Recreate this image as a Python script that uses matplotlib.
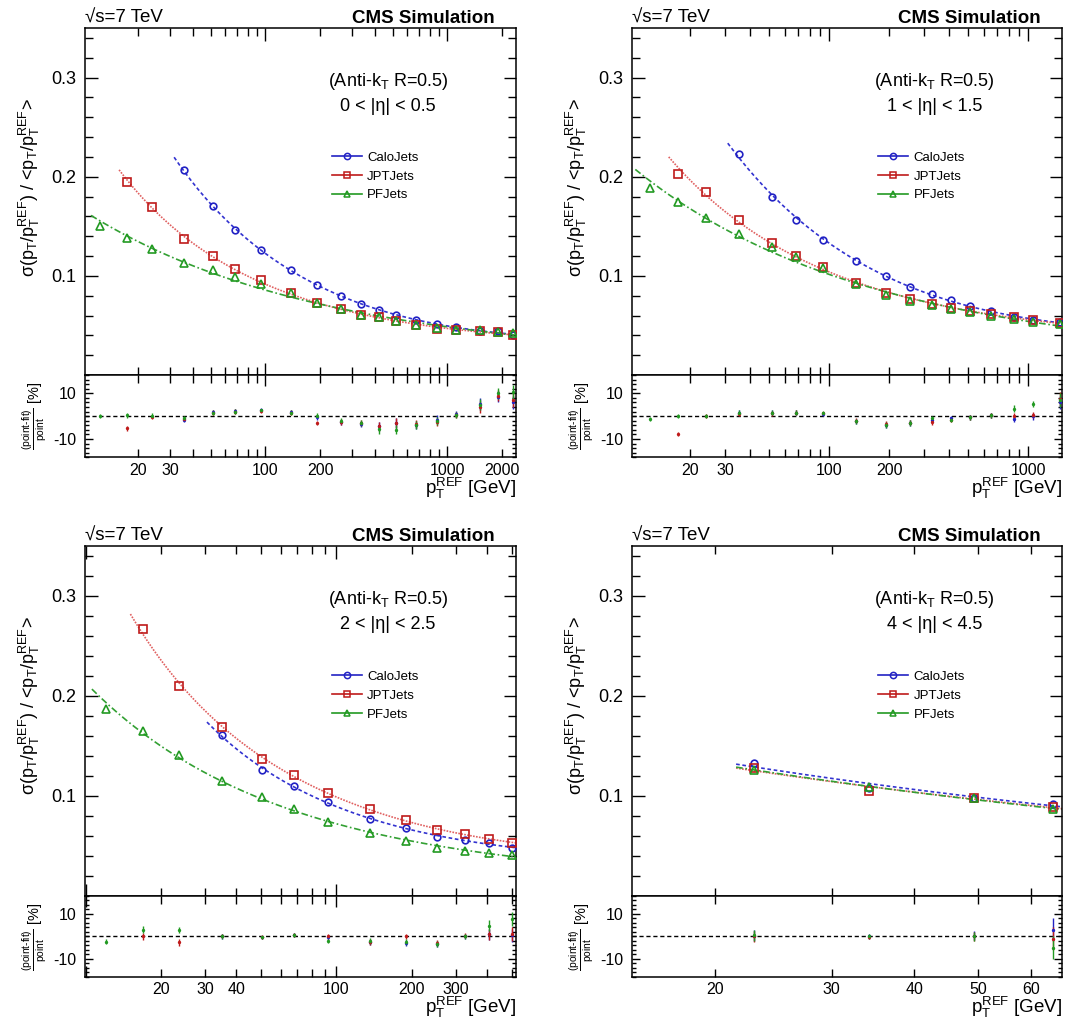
import matplotlib
matplotlib.use("Agg")
import matplotlib.pyplot as plt
import numpy as np
from matplotlib.lines import Line2D
from matplotlib.ticker import FixedLocator, FuncFormatter, LogLocator, MultipleLocator

plt.rcParams["font.family"] = ["Liberation Sans", "DejaVu Sans"]
plt.rcParams["mathtext.fontset"] = "custom"
plt.rcParams["mathtext.rm"] = "Liberation Sans"
plt.rcParams["mathtext.it"] = "Liberation Sans:italic"
plt.rcParams["mathtext.bf"] = "Liberation Sans:bold"
plt.rcParams["mathtext.default"] = "regular"
plt.rcParams["axes.unicode_minus"] = False

SERIES = ["CaloJets", "JPTJets", "PFJets"]

# ---- 0 < |eta| < 0.5
pt_1 = [12.4, 17.4, 23.8, 35.7, 51.2, 68.1, 94.2, 138, 193, 259, 334, 418, 520, 670, 877, 1111, 1506, 1890, 2291]
calo_1 = [None, None, None, 0.207, 0.170, 0.146, 0.126, 0.106, 0.091, 0.080, 0.0717, 0.066, 0.0607, 0.0557, 0.0514, 0.048, 0.0447, 0.044, 0.040]
jpt_1 = [None, 0.195, 0.169, 0.137, 0.120, 0.107, 0.096, 0.083, 0.0727, 0.0667, 0.061, 0.058, 0.0544, 0.050, 0.0467, 0.045, 0.0443, 0.0437, 0.040]
pf_1 = [0.150, 0.138, 0.127, 0.113, 0.106, 0.099, 0.092, 0.0824, 0.073, 0.0667, 0.061, 0.058, 0.0544, 0.050, 0.0477, 0.0457, 0.0457, 0.0437, 0.0427]
res_calo_1 = [None, None, None, -1.5, 1.8, 2.3, 2.7, 1.8, -0.5, -2.7, -3.5, -4.5, -3.0, -4.0, -1.5, 1.0, 5.3, 8.5, 6.0]
res_jpt_1 = [None, -5.3, -0.3, -1.2, 1.5, 2.0, 2.3, 1.5, -3.0, -2.5, -3.0, -4.5, -3.0, -3.5, -2.5, 0.5, 4.0, 9.0, 7.0]
res_pf_1 = [0.0, 0.3, 0.2, -1.0, 1.5, 2.0, 2.5, 1.5, 0.2, -2.0, -3.0, -5.7, -6.0, -4.0, -2.0, 0.5, 5.0, 10.0, 10.5]
err_1 = [1.0, 1.2, 1.0, 1.0, 1.0, 1.0, 0.8, 1.0, 1.0, 1.2, 1.2, 2.0, 2.0, 1.8, 1.8, 1.2, 2.5, 2.5, 3.0]
fit_from_1 = [31.5, 15.7, 11.0]
xlabels_1 = [20, 30, 100, 200, 1000, 2000]

# ---- 1 < |eta| < 1.5
pt_2 = [12.5, 17.4, 23.9, 35.4, 51.3, 68.2, 93.3, 137, 192, 256, 329, 411, 509, 652, 847, 1055, 1452]
calo_2 = [None, None, None, 0.223, 0.180, 0.156, 0.136, 0.115, 0.100, 0.089, 0.0817, 0.076, 0.070, 0.0647, 0.0584, 0.0554, 0.053]
jpt_2 = [None, 0.203, 0.185, 0.156, 0.133, 0.120, 0.1087, 0.0927, 0.0827, 0.0763, 0.0713, 0.068, 0.065, 0.0613, 0.058, 0.0554, 0.052]
pf_2 = [0.189, 0.174, 0.158, 0.142, 0.129, 0.119, 0.108, 0.092, 0.081, 0.0747, 0.0707, 0.0667, 0.0634, 0.060, 0.056, 0.0534, 0.0517]
res_calo_2 = [None, None, None, 1.5, 1.5, 1.5, 1.0, -2.3, -3.8, -3.0, -1.5, -1.0, -0.5, 0.3, -1.2, 0.0, 6.0]
res_jpt_2 = [None, -7.8, 0.0, 1.0, 1.2, 1.5, 1.2, -2.0, -3.5, -2.8, -2.7, -1.5, -0.5, 0.3, 0.0, 0.5, 7.5]
res_pf_2 = [-1.2, 0.0, 0.0, 1.5, 1.5, 1.5, 1.5, -2.3, -3.8, -3.0, -1.0, -1.5, -0.5, 0.3, 3.3, 5.3, 7.0]
err_2 = [0.8, 1.0, 0.8, 1.0, 1.0, 1.0, 0.8, 1.0, 1.2, 1.2, 1.0, 1.0, 1.0, 1.0, 1.5, 1.5, 3.0]
fit_from_2 = [30.9, 15.6, 10.6]
xlabels_2 = [20, 30, 100, 200, 1000]

# ---- 2 < |eta| < 2.5
pt_3 = [12.1, 16.9, 23.5, 34.9, 50.6, 67.6, 92.6, 136.6, 189.5, 253, 325, 407, 504]
calo_3 = [None, None, None, 0.161, 0.126, 0.110, 0.0937, 0.0767, 0.0683, 0.0593, 0.056, 0.0527, 0.048]
jpt_3 = [None, 0.267, 0.210, 0.169, 0.137, 0.121, 0.103, 0.0867, 0.076, 0.066, 0.0617, 0.0573, 0.0533]
pf_3 = [0.187, 0.165, 0.1407, 0.1153, 0.0993, 0.0867, 0.0743, 0.0633, 0.0547, 0.0483, 0.0453, 0.0427, 0.041]
res_calo_3 = [None, None, None, 0.0, -0.5, 0.5, -0.5, -2.7, -3.0, -3.4, 0.0, 1.0, 0.5]
res_jpt_3 = [None, 0.0, -2.7, 0.2, -0.3, 0.7, 0.0, -2.5, 0.0, -3.0, 0.3, 1.0, 1.0]
res_pf_3 = [-2.4, 3.0, 2.8, 0.0, -0.5, 0.7, -2.0, -2.0, -2.5, -3.4, 0.0, 4.8, 7.8]
err_3 = [1.0, 1.5, 1.5, 1.0, 0.8, 0.8, 1.0, 1.2, 1.2, 1.5, 1.2, 2.5, 3.0]
fit_from_3 = [30.5, 15.1, 10.6]
xlabels_3 = [20, 30, 40, 100, 200, 300]

# ---- 4 < |eta| < 4.5
pt_4 = [22.9, 34.1, 49.3, 64.9]
calo_4 = [0.1327, 0.108, 0.098, 0.0923]
jpt_4 = [0.128, 0.1053, 0.0977, 0.089]
pf_4 = [0.1263, 0.1087, 0.0977, 0.087]
res_calo_4 = [0.3, 0.0, 0.2, 3.0]
res_jpt_4 = [0.0, -0.2, 0.0, -1.0]
res_pf_4 = [0.5, 0.0, 0.0, -5.0]
err_4 = [2.5, 1.0, 2.0, 5.0]
fit_from_4 = [21.5, 21.5, 21.5]
xlabels_4 = [20, 30, 40, 50, 60]

ETA_TEXT = ["0 < |η| < 0.5", "1 < |η| < 1.5", "2 < |η| < 2.5", "4 < |η| < 4.5"]

COLORS = ["#2222c4", "#bf1a1a", "#229a22"]
FIT_COLORS = ["#3333d0", "#e06060", "#33a033"]
FIT_STYLES = [(0, (2.2, 1.6)), (0, (1.0, 0.8)), (0, (4, 1.6, 1, 1.6))]
MARKERS = ["o", "s", "^"]

W, H = 1070, 1026


def resolution_fit(x, y, x0, x1):
    # N-S-C form first; fall back to a log-log quadratic if a term goes negative
    xf = np.geomspace(x0, x1, 200)
    A = np.column_stack([1 / x**2, 1 / x, np.ones_like(x)]) / (y[:, None] ** 2)
    coef, *_ = np.linalg.lstsq(A, np.ones_like(x), rcond=None)
    if len(x) > 4 and np.all(coef >= 0):
        return xf, np.sqrt(coef[0] / xf**2 + coef[1] / xf + coef[2])
    deg = 2 if len(x) > 4 else 1
    p = np.polyfit(np.log(x), np.log(y), deg)
    return xf, np.exp(np.polyval(p, np.log(xf)))


def set_log_x(a, xlim, labels, show):
    a.set_xscale("log")
    a.set_xlim(*xlim)
    a.xaxis.set_major_locator(FixedLocator([10, 100, 1000]))
    a.xaxis.set_minor_locator(LogLocator(base=10, subs=np.arange(2, 10), numticks=50))

    def fmt(v, pos):
        if show and any(abs(v - l) < 1e-6 * l for l in labels):
            return f"{v:g}"
        return ""

    a.xaxis.set_major_formatter(FuncFormatter(fmt))
    a.xaxis.set_minor_formatter(FuncFormatter(fmt))


def draw_panel(fig, left, top, width, h_main, h_res, pt, series, resid, err,
               fit_from, xlim, labels, eta):
    pt = np.asarray(pt, dtype=float)
    ax = fig.add_axes([left / W, 1 - (top + h_main) / H, width / W, h_main / H])
    rx = fig.add_axes([left / W, 1 - (top + h_main + h_res) / H, width / W, h_res / H])

    for k, vals in enumerate(series):
        y = np.asarray(vals, dtype=float)
        m = ~np.isnan(y)
        x_end = min(pt[m][-1] * 1.04, xlim[1])
        xf, yf = resolution_fit(pt[m], y[m], fit_from[k], x_end)
        ax.plot(xf, yf, color=FIT_COLORS[k], ls=FIT_STYLES[k], lw=1.2, zorder=2)
    for k, vals in enumerate(series):
        y = np.asarray(vals, dtype=float)
        ax.plot(pt, y, ls="none", marker=MARKERS[k], ms=5.2 if k else 4.8,
                mfc="none", mec=COLORS[k], mew=1.2, zorder=3)
        r = np.asarray(resid[k], dtype=float)
        rx.errorbar(pt, r, yerr=np.asarray(err, dtype=float), fmt="o", ms=1.4,
                    color=COLORS[k], elinewidth=1.0, capsize=0, zorder=3)

    rx.axhline(0, color="black", ls=(0, (3, 2)), lw=1.0, zorder=2)

    for a in (ax, rx):
        set_log_x(a, xlim, labels, a is rx)
        for s in a.spines.values():
            s.set_linewidth(1.1)
        a.tick_params(axis="both", which="both", direction="in", top=True,
                      right=True, width=1.0, labelsize=11.5, pad=4)

    ax.set_ylim(0, 0.35)
    ax.yaxis.set_major_locator(FixedLocator([0.1, 0.2, 0.3]))
    ax.yaxis.set_minor_locator(MultipleLocator(0.02))
    ax.yaxis.set_major_formatter(FuncFormatter(lambda v, p: f"{v:g}"))
    ax.tick_params(axis="both", which="major", length=9)
    ax.tick_params(axis="both", which="minor", length=6)
    ax.tick_params(axis="y", labelsize=13, pad=6)

    rx.set_ylim(-18, 18)
    rx.yaxis.set_major_locator(FixedLocator([-10, 10]))
    rx.yaxis.set_minor_locator(MultipleLocator(2))
    rx.yaxis.set_major_formatter(FuncFormatter(lambda v, p: f"{v:g}"))
    rx.tick_params(axis="x", which="major", length=8)
    rx.tick_params(axis="x", which="minor", length=6)
    rx.tick_params(axis="y", which="major", length=6, pad=6)
    rx.tick_params(axis="y", which="minor", length=3)

    ax.text(0.0, 1.014, "√s=7 TeV", transform=ax.transAxes, ha="left",
            va="baseline", fontsize=13.5)
    ax.text(0.951, 1.014, "CMS Simulation", transform=ax.transAxes, ha="right",
            va="baseline", fontsize=13.5, fontweight="bold")
    ax.text(0.703, 0.847, r"(Anti-k$_{T}$ R=0.5)", transform=ax.transAxes,
            ha="center", va="center", fontsize=13)
    ax.text(0.703, 0.775, eta, transform=ax.transAxes, ha="center",
            va="center", fontsize=13)

    handles = [Line2D([], [], color=COLORS[k], marker=MARKERS[k], ms=4.5,
                      mfc="none", mew=1.1, lw=1.2) for k in range(3)]
    ax.legend(handles, SERIES, loc="center left", bbox_to_anchor=(0.572, 0.572),
              frameon=False, fontsize=9.5, handlelength=2.3, handletextpad=0.4,
              labelspacing=0.5, borderpad=0, borderaxespad=0)

    fig.text((left - 56) / W, 1 - (top + 160) / H,
             r"$\sigma(p_{T}/p_{T}^{REF})$ / <$p_{T}/p_{T}^{REF}$>",
             rotation=90, ha="center", va="center", fontsize=13)
    fig.text((left - 50) / W, 1 - (top + h_main + h_res / 2) / H,
             r"$\frac{\mathrm{(point}\text{-}\mathrm{fit)}}{\mathrm{point}}$ [%]",
             rotation=90, ha="center", va="center", fontsize=10.5)
    fig.text((left + width) / W, 1 - (top + h_main + h_res + 31) / H,
             r"$p_{T}^{REF}$ [GeV]", ha="right", va="center", fontsize=13.5)
    return ax, rx


fig = plt.figure(figsize=(W / 100, H / 100), dpi=100)

draw_panel(fig, 85, 28, 431, 347, 82.3, pt_1, [calo_1, jpt_1, pf_1],
           [res_calo_1, res_jpt_1, res_pf_1], err_1, fit_from_1,
           (10.2, 2380), xlabels_1, ETA_TEXT[0])
draw_panel(fig, 632, 28, 430, 347, 82.3, pt_2, [calo_2, jpt_2, pf_2],
           [res_calo_2, res_jpt_2, res_pf_2], err_2, fit_from_2,
           (10.2, 1480), xlabels_2, ETA_TEXT[1])
draw_panel(fig, 85, 546, 431, 350, 80.7, pt_3, [calo_3, jpt_3, pf_3],
           [res_calo_3, res_jpt_3, res_pf_3], err_3, fit_from_3,
           (9.95, 521), xlabels_3, ETA_TEXT[2])
draw_panel(fig, 632, 546, 430, 350, 80.7, pt_4, [calo_4, jpt_4, pf_4],
           [res_calo_4, res_jpt_4, res_pf_4], err_4, fit_from_4,
           (14.96, 66.9), xlabels_4, ETA_TEXT[3])

fig.savefig("out.png", dpi=100)
